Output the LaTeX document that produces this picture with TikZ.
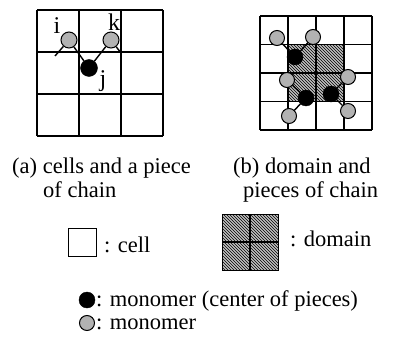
\documentclass[tikz,border=0pt]{standalone}
\usepackage{fontspec}
\setmainfont{Liberation Serif}
\usetikzlibrary{patterns}
\tikzset{
  x=1pt, y=-1pt,
  gridline/.style={line width=1.2pt, black},
  graymono/.style={circle, draw=black, line width=1pt, fill=gray!60, minimum size=15pt, inner sep=0pt},
  blackmono/.style={circle, fill=black, draw=black, minimum size=16pt, inner sep=0pt},
  bond/.style={line width=1.4pt, black},
  lbl/.style={font=\fontsize{22.5}{26}\selectfont, inner sep=0pt, anchor=base west},
  idx/.style={font=\fontsize{24}{28}\selectfont, inner sep=0pt},
  domainfill/.style={fill=gray!50, postaction={pattern=north west lines, pattern color=black}}
}
\begin{document}
\begin{tikzpicture}
\useasboundingbox (0,0) rectangle (401,339);
% ---------- (a) grid ----------
\foreach \i in {0,1,2,3} {
  \draw[gridline] (37+42*\i,10) -- (37+42*\i,136);
  \draw[gridline] (37,10+42*\i) -- (163,10+42*\i);
}
\node[graymono, minimum size=16pt] (ai) at (69,40) {};
\node[graymono, minimum size=16pt] (ak) at (111,40) {};
\node[blackmono, minimum size=17pt] (aj) at (89,68) {};
\coordinate (aistub) at (55,56);
\coordinate (akstub) at (121,53);
\draw[bond] (ai) -- (aj);
\draw[bond] (ak) -- (aj);
\draw[bond] (ai) -- (aistub);
\draw[bond] (ak) -- (akstub);
\node[idx] (li) at (57,26) {i};
\node[idx] (lk) at (114,22) {k};
\node[idx] (lj) at (103,81) {j};
% ---------- (b) grid ----------
\fill[domainfill] (288,44.5) rectangle (344,101.5);
\foreach \i in {0,1,2,3,4} {
  \draw[gridline] (260+28*\i,16) -- (260+28*\i,130);
  \draw[gridline] (260,16+28.5*\i) -- (372,16+28.5*\i);
}
\node[graymono] (b1) at (277,38) {};
\node[graymono] (b2) at (313,37) {};
\node[blackmono] (b3) at (295,57) {};
\node[graymono] (b4) at (287,80) {};
\node[blackmono] (b5) at (306,98) {};
\node[graymono] (b6) at (289,116) {};
\node[graymono] (b7) at (348,77) {};
\node[blackmono] (b8) at (331,94) {};
\node[graymono] (b9) at (348,111) {};
\draw[bond] (b1) -- (b3);
\draw[bond] (b2) -- (b3);
\draw[bond] (b4) -- (b5);
\draw[bond] (b6) -- (b5);
\draw[bond] (b7) -- (b8);
\draw[bond] (b9) -- (b8);
% ---------- captions ----------
\node[lbl] (ca1) at (12,173) {(a) cells and a piece};
\node[lbl] (ca2) at (43,197) {of chain};
\node[lbl] (cb1) at (233,173) {(b) domain and};
\node[lbl] (cb2) at (243,197) {pieces of chain};
% ---------- legend ----------
\draw[line width=1pt] (68,228) rectangle (96,256);
\node[lbl] (lcell) at (104,252) {: cell};
\fill[domainfill] (222,214) rectangle (278,270);
\draw[line width=1pt] (222,214) rectangle (278,270);
\draw[gridline] (250,214) -- (250,270);
\draw[gridline] (222,242) -- (278,242);
\node[lbl] (ldom) at (290,246) {: domain};
\node[blackmono] (lblack) at (87,300) {};
\node[lbl] (ltxt1) at (96,306) {: monomer (center of pieces)};
\node[graymono] (lgray) at (87,323) {};
\node[lbl] (ltxt2) at (96,329) {: monomer};
\end{tikzpicture}
\end{document}
